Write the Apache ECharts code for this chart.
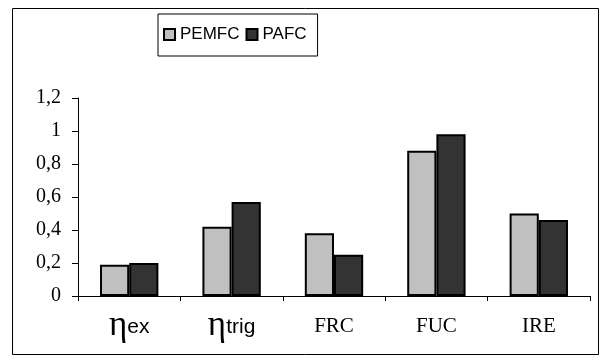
<!DOCTYPE html>
<html>
<head>
<meta charset="utf-8">
<script src="https://cdn.jsdelivr.net/npm/echarts@6/dist/echarts.min.js"></script>
<style>
  html, body { margin: 0; padding: 0; background: #fff; }
  #chart { width: 612px; height: 362px; }
</style>
</head>
<body>
<div id="chart"></div>
<script>
const categories = ['ex', 'trig', 'FRC', 'FUC', 'IRE']
const pemfcValues = [0.19, 0.42, 0.38, 0.88, 0.5]
const pafcValues = [0.2, 0.57, 0.25, 0.98, 0.46]
const yTicks = [0, 0.2, 0.4, 0.6, 0.8, 1, 1.2]

let chartInstance = echarts.init(document.getElementById('chart'))

const fmtComma = (v) => String(+v.toFixed(1)).replace('.', ',')

const catLabel = (v) => {
    // first two categories are eta with a subscript
    if (v === 'ex' || v === 'trig') {
        return '{eta|η}{sub|' + v + '}'
    }
    return '{plain|' + v + '}'
}

const barStyle = (color) => ({
    color: color,
    borderColor: '#000',
    borderWidth: 2
})

const option = {
    animation: false,
    backgroundColor: '#fff',
    graphic: [{
        type: 'rect',
        shape: { x: 12.5, y: 8.5, width: 586, height: 346 },
        style: { fill: 'none', stroke: '#000', lineWidth: 1 },
        silent: true
    }],
    legend: {
        left: 158,
        top: 14,
        padding: [12, 11, 13, 5],
        borderColor: '#000',
        borderWidth: 1,
        itemWidth: 11,
        itemHeight: 11,
        itemGap: 6,
        icon: 'rect',
        textStyle: {
            fontFamily: 'Liberation Sans, Arial',
            fontSize: 17,
            color: '#000'
        },
        data: ['PEMFC', 'PAFC']
    },
    grid: {
        left: 78,
        right: 22,
        top: 98,
        bottom: 66,
        containLabel: false
    },
    xAxis: {
        type: 'category',
        data: categories,
        axisLine: { lineStyle: { color: '#000', width: 1 } },
        axisTick: { show: true, length: 5, lineStyle: { color: '#000' } },
        axisLabel: {
            interval: 0,
            margin: 12,
            formatter: catLabel,
            rich: {
                eta: { fontFamily: 'Liberation Serif, Times New Roman', fontSize: 35, color: '#000', verticalAlign: 'bottom' },
                sub: { fontFamily: 'Liberation Sans, Arial', fontSize: 21, color: '#000', verticalAlign: 'bottom', padding: [0, 0, 5, 0] },
                plain: { fontFamily: 'Liberation Serif, Times New Roman', fontSize: 21, color: '#000', padding: [8, 0, 0, 0] }
            }
        }
    },
    yAxis: {
        type: 'value',
        min: 0,
        max: 1.2,
        interval: 0.2,
        axisLine: { show: true, lineStyle: { color: '#000', width: 1 } },
        axisTick: { show: true, length: 6, lineStyle: { color: '#000' } },
        splitLine: { show: false },
        axisLabel: {
            margin: 17,
            color: '#000',
            fontFamily: 'Liberation Serif, Times New Roman',
            fontSize: 20,
            formatter: fmtComma
        }
    },
    series: [
        {
            name: 'PEMFC',
            type: 'bar',
            data: pemfcValues,
            barGap: '0%',
            barCategoryGap: '43%',
            itemStyle: barStyle('#c0c0c0')
        },
        {
            name: 'PAFC',
            type: 'bar',
            data: pafcValues,
            itemStyle: barStyle('#333333')
        }
    ]
}

chartInstance.setOption(option)
</script>
</body>
</html>
